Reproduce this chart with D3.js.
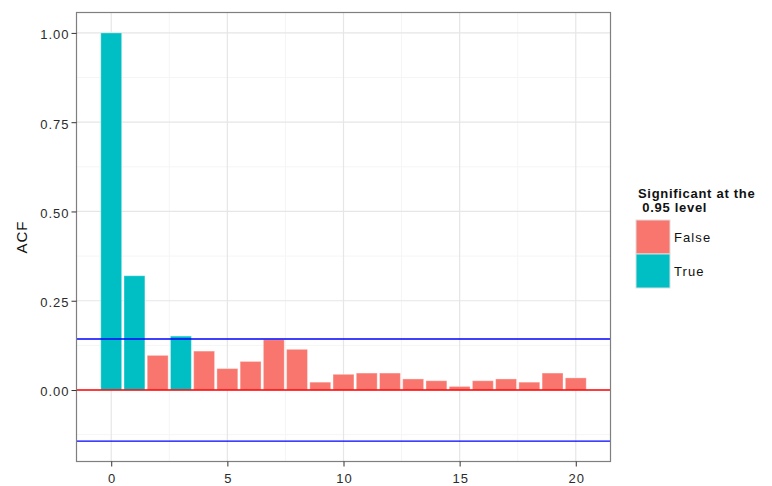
<!DOCTYPE html>
<html>
<head>
<meta charset="utf-8">
<script src="https://cdn.jsdelivr.net/npm/d3@7"></script>
<style>
  body { margin: 0; background: #fff; }
  text { font-family: "Liberation Sans", Arial, sans-serif; }
</style>
</head>
<body>
<svg id="chart" width="772" height="486"></svg>
<script>
// Autocorrelation by lag
const lags = d3.range(0, 21);
const acfValues = [1.0, 0.32, 0.097, 0.151, 0.109, 0.060, 0.080, 0.141, 0.114, 0.022,
                   0.044, 0.0475, 0.0475, 0.031, 0.026, 0.010, 0.026, 0.031, 0.022, 0.0475, 0.034];
const significant = [true, true, false, true, false, false, false, false, false, false,
                     false, false, false, false, false, false, false, false, false, false, false];
const confBound = 0.143;
const xTicks = [0, 5, 10, 15, 20];
const yTicks = [0, 0.25, 0.5, 0.75, 1.0];
const legendLabels = ["False", "True"];
const legendColors = ["#F8766D", "#00BFC4"];

const svg = d3.select("#chart");
const panel = { left: 76.5, right: 610.5, top: 12.5, bottom: 461.5 };

const xMin = -0.45, xMax = 20.45;
const xPad = (xMax - xMin) * 0.05;
const x = d3.scaleLinear().domain([xMin - xPad, xMax + xPad]).range([panel.left, panel.right]);
const yLo = -confBound, yHi = 1.0;
const yPad = (yHi - yLo) * 0.05;
const y = d3.scaleLinear().domain([yLo - yPad, yHi + yPad]).range([panel.bottom, panel.top]);

const color = d => d ? legendColors[1] : legendColors[0];

// panel background
svg.append("rect").attr("x", panel.left).attr("y", panel.top)
  .attr("width", panel.right - panel.left).attr("height", panel.bottom - panel.top)
  .attr("fill", "#fff");

// minor grid
const xMinor = [2.5, 7.5, 12.5, 17.5];
const yMinor = [-0.125, 0.125, 0.375, 0.625, 0.875];
const g = svg.append("g");
g.selectAll(".xminor").data(xMinor).join("line")
  .attr("x1", d => x(d)).attr("x2", d => x(d)).attr("y1", panel.top).attr("y2", panel.bottom)
  .attr("stroke", "#f5f5f5").attr("stroke-width", 1);
g.selectAll(".yminor").data(yMinor).join("line")
  .attr("y1", d => y(d)).attr("y2", d => y(d)).attr("x1", panel.left).attr("x2", panel.right)
  .attr("stroke", "#f5f5f5").attr("stroke-width", 1);
// major grid
g.selectAll(".xmajor").data(xTicks).join("line")
  .attr("x1", d => x(d)).attr("x2", d => x(d)).attr("y1", panel.top).attr("y2", panel.bottom)
  .attr("stroke", "#e6e6e6").attr("stroke-width", 1.2);
g.selectAll(".ymajor").data(yTicks).join("line")
  .attr("y1", d => y(d)).attr("y2", d => y(d)).attr("x1", panel.left).attr("x2", panel.right)
  .attr("stroke", "#e6e6e6").attr("stroke-width", 1.2);

// bars
const bw = 0.9;
svg.append("g").selectAll("rect").data(lags).join("rect")
  .attr("x", i => x(lags[i] - bw / 2))
  .attr("width", i => x(lags[i] + bw / 2) - x(lags[i] - bw / 2))
  .attr("y", i => y(Math.max(0, acfValues[i])))
  .attr("height", i => Math.abs(y(acfValues[i]) - y(0)))
  .attr("fill", i => color(significant[i]))
  .attr("stroke", "#ffffff").attr("stroke-opacity", 0.35).attr("stroke-width", 1);

// reference lines
const hlines = [
  { v: confBound, c: "#0000ff" },
  { v: -confBound, c: "#0000ff" },
  { v: 0, c: "#ff0000" }
];
svg.append("g").selectAll("line").data(hlines).join("line")
  .attr("x1", panel.left).attr("x2", panel.right)
  .attr("y1", d => y(d.v)).attr("y2", d => y(d.v))
  .attr("stroke", d => d.c).attr("stroke-width", 1.4);

// panel border
svg.append("rect").attr("x", panel.left).attr("y", panel.top)
  .attr("width", panel.right - panel.left).attr("height", panel.bottom - panel.top)
  .attr("fill", "none").attr("stroke", "#7f7f7f").attr("stroke-width", 1.2);

// axes
const yAxis = d3.axisLeft(y).tickValues(yTicks).tickFormat(d3.format(".2f")).tickSize(5).tickPadding(2);
const xAxis = d3.axisBottom(x).tickValues(xTicks).tickFormat(d3.format("d")).tickSize(5).tickPadding(7);
const ya = svg.append("g").attr("transform", `translate(${panel.left},0)`).call(yAxis);
const xa = svg.append("g").attr("transform", `translate(0,${panel.bottom})`).call(xAxis);
[ya, xa].forEach(a => {
  a.select(".domain").remove();
  a.selectAll(".tick line").attr("stroke", "#333").attr("stroke-width", 1);
  a.selectAll(".tick text").attr("fill", "#2b2b2b").attr("font-size", 13)
    .attr("letter-spacing", 1)
    .attr("font-family", "'Liberation Sans', Arial, sans-serif");
});
ya.selectAll(".tick text").attr("dy", "0.45em");
xa.selectAll(".tick text").attr("dx", "0.5px");

// y title
svg.append("text").attr("transform", `translate(27,${(panel.top + panel.bottom) / 2}) rotate(-90)`)
  .attr("text-anchor", "middle").attr("font-size", 15).attr("letter-spacing", 1)
  .attr("fill", "#111").text("ACF");

// legend
const lg = svg.append("g").attr("transform", "translate(636,0)");
lg.append("text").attr("x", 2).attr("y", 198).attr("font-size", 13).attr("font-weight", "bold")
  .attr("letter-spacing", 0.7).attr("fill", "#111").text("Significant at the");
lg.append("text").attr("x", 2).attr("y", 212).attr("font-size", 13).attr("font-weight", "bold")
  .attr("letter-spacing", 0.7).attr("fill", "#111").style("white-space", "pre").text(" 0.95 level");
const keyH = 34, keyW = 34, keyTop = 220;
lg.selectAll(".key").data(legendLabels).join("rect")
  .attr("x", 0).attr("y", (d, i) => keyTop + i * keyH)
  .attr("width", keyW).attr("height", keyH)
  .attr("fill", (d, i) => legendColors[i])
  .attr("stroke", "#dddddd").attr("stroke-width", 1);
lg.selectAll(".lab").data(legendLabels).join("text")
  .attr("x", keyW + 4).attr("y", (d, i) => keyTop + i * keyH + keyH / 2 + 5)
  .attr("font-size", 13).attr("letter-spacing", 1.1).attr("fill", "#111").text(d => d);
</script>
</body>
</html>
